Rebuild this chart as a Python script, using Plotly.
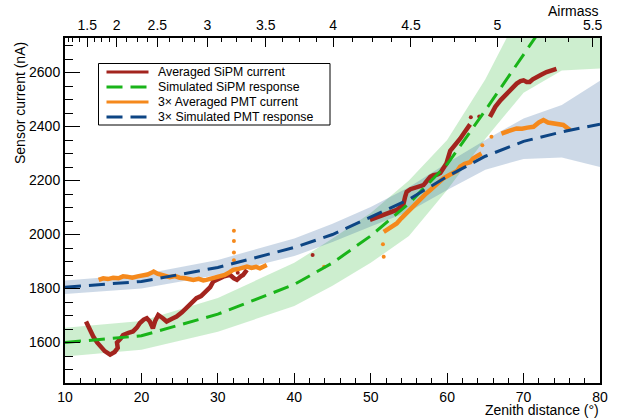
import plotly.graph_objects as go

# ---------------- data ----------------
# simulated responses (zenith distance in degrees, current in nA)
sim_z = [10, 20, 30, 40, 45, 50, 55, 60, 65, 70, 75, 80]
sipm_sim = [1600, 1625, 1705, 1815, 1895, 1995, 2115, 2260, 2460, 2665, 2870, 3080]
sipm_sim_lo = [1548, 1573, 1640, 1735, 1810, 1895, 1995, 2165, 2355, 2525, 2608, 2615]
sipm_sim_hi = [1655, 1680, 1765, 1895, 1985, 2080, 2200, 2350, 2575, 2850, 3000, 3100]
pmt_sim = [1805, 1826, 1878, 1952, 2000, 2066, 2130, 2215, 2290, 2345, 2380, 2409]
pmt_sim_lo = [1780, 1800, 1850, 1920, 1972, 2030, 2085, 2165, 2240, 2280, 2285, 2250]
pmt_sim_hi = [1830, 1852, 1906, 1985, 2040, 2102, 2175, 2265, 2350, 2430, 2480, 2570]

# averaged SiPM current (None = gap)
sipm_z = [12.75, 13.2, 13.7, 14.2, 14.6, 15.2, 15.9, 16.5, 16.9, 16.8, 17.3, 17.6, 18.3, 18.9,
          19.4, 19.8, 20.3, 20.7, 21.1, 21.5, 21.8, 22.2, 22.8, 23.3, 24.0, 24.6, 25.3, 25.9,
          26.5, 27.2, 27.8, 28.5, 29.0, 29.4, 30.0, 30.7, 31.2, 31.6, 32.1, 32.5, 33.0, 33.3, 33.8,
          None,
          49.9, 50.5, 51.0, 51.7, 52.5, 53.4, 54.0, 54.3, 54.5, 54.7, 55.2, 55.6, 56.2, 56.9,
          57.4, 57.8, 58.2, 58.7, 59.1, 59.5, 59.9, 60.4, 61.0, 61.7, 62.3, 63.0,
          None,
          65.6, 66.0, 66.3, 67.0, 67.8, 68.5, 69.1, 69.6, 70.0, 70.4, 70.8, 71.2, 71.7, 72.3,
          73.0, 73.6, 74.3]
sipm_i = [1678, 1650, 1622, 1600, 1585, 1568, 1555, 1565, 1580, 1600, 1615, 1628, 1636, 1641,
          1655, 1672, 1685, 1690, 1678, 1653, 1680, 1702, 1690, 1678, 1688, 1696, 1712, 1727,
          1745, 1764, 1772, 1789, 1805, 1826, 1835, 1844, 1848, 1850, 1838, 1832, 1845, 1850, 1869,
          None,
          2054, 2060, 2066, 2072, 2080, 2091, 2105, 2115, 2140, 2158, 2168, 2171, 2175, 2183,
          2200, 2214, 2220, 2222, 2228, 2245, 2263, 2310, 2330, 2355, 2380, 2408,
          None,
          2436, 2455, 2473, 2498, 2522, 2542, 2559, 2568, 2571, 2565, 2565, 2575, 2584, 2592,
          2602, 2607, 2614]
sipm_dot_z = [42.4, 63.1, 64.2, 32.6]
sipm_dot_i = [1924, 2434, 2437, 1858]

# 3x averaged PMT current
pmt_z = [14.4, 15.0, 15.6, 16.3, 17.0, 17.6, 18.1, 18.8, 19.5, 20.2, 20.8, 21.3, 21.6, 22.1,
         22.6, 23.2, 23.7, 24.4, 25.0, 25.7, 26.3, 26.8, 27.5, 28.1, 28.5, 29.2, 29.8, 30.3,
         30.9, 31.5, 32.0, 32.6, 33.2, 33.8, 34.4, 35.0, 35.5, 36.0, 36.4,
         None,
         51.7, 52.2, 52.8, 53.4, 54.0, 54.6, 55.1, 55.7, 56.4, 57.1, 57.8, 58.5, 59.1, 59.5,
         60.4, 61.3, 61.7, 62.3, 63.0, 63.4, 64.0, 64.5,
         None,
         67.1, 67.6, 68.2, 69.1, 69.8, 70.5, 71.3, 72.0, 72.6, 73.2, 73.9, 74.5, 75.2, 75.7, 76.1]
pmt_i = [1832, 1838, 1835, 1840, 1838, 1845, 1844, 1840, 1845, 1848, 1852, 1858, 1863, 1855,
         1850, 1845, 1842, 1846, 1840, 1838, 1835, 1832, 1836, 1830, 1832, 1838, 1840, 1844,
         1850, 1860, 1869, 1872, 1876, 1881, 1876, 1880, 1875, 1882, 1887,
         None,
         2010, 2020, 2030, 2041, 2060, 2078, 2091, 2110, 2128, 2148, 2165, 2185, 2202, 2208,
         2222, 2235, 2251, 2262, 2268, 2282, 2292, 2300,
         None,
         2374, 2380, 2385, 2393, 2392, 2396, 2399, 2415, 2424, 2415, 2411, 2410, 2406, 2395, 2387]
pmt_dot_z = [32.1, 32.1, 32.1, 32.1, 51.6, 51.7, 43.9, 64.6, 65.8]
pmt_dot_i = [1905, 1933, 1976, 2014, 1964, 1918, 1881, 2331, 2362]

# top axis: airmass labels and the zenith distance where each sits
airmass_labels = ["1.5", "2", "2.5", "3", "3.5", "4", "4.5", "5", "5.5"]
airmass_at_z = [12.92, 16.76, 22.08, 28.62, 36.26, 45.1, 55.27, 66.57, 79.04]

legend_labels = ["Averaged SiPM current", "Simulated SiPM response",
                 "3\u00d7 Averaged PMT current", "3\u00d7 Simulated PMT response"]

# ---------------- styles ----------------
RED = "#a3241e"
GREEN = "#19b419"
ORANGE = "#f5891c"
BLUE = "#0d4584"
FONT = "Liberation Sans, Arial, sans-serif"
W, H = 620, 419
L, R, T, B = 65, 20, 38, 36
PW, PH = W - L - R, H - T - B


def px(xp):  # pixel x -> paper
    return (xp - L) / PW


def py(yp):  # pixel y -> paper
    return (H - B - yp) / PH


fig = go.Figure()

# bands
fig.add_trace(go.Scatter(x=sim_z + sim_z[::-1], y=sipm_sim_hi + sipm_sim_lo[::-1],
                         fill="toself", fillcolor="rgba(60,190,70,0.26)", line=dict(width=0),
                         mode="lines", showlegend=False, hoverinfo="skip"))
fig.add_trace(go.Scatter(x=sim_z + sim_z[::-1], y=pmt_sim_hi + pmt_sim_lo[::-1],
                         fill="toself", fillcolor="rgba(40,90,150,0.23)", line=dict(width=0),
                         mode="lines", showlegend=False, hoverinfo="skip"))

# measured
fig.add_trace(go.Scatter(x=sipm_z, y=sipm_i, mode="lines", line=dict(color=RED, width=4.5),
                         name=legend_labels[0], showlegend=False, connectgaps=False))
fig.add_trace(go.Scatter(x=sipm_dot_z, y=sipm_dot_i, mode="markers",
                         marker=dict(color=RED, size=4), showlegend=False))
fig.add_trace(go.Scatter(x=pmt_z, y=pmt_i, mode="lines", line=dict(color=ORANGE, width=4.5),
                         name=legend_labels[2], showlegend=False, connectgaps=False))
fig.add_trace(go.Scatter(x=pmt_dot_z, y=pmt_dot_i, mode="markers",
                         marker=dict(color=ORANGE, size=4), showlegend=False))

# simulations
fig.add_trace(go.Scatter(x=sim_z, y=sipm_sim, mode="lines",
                         line=dict(color=GREEN, width=3, dash="16px,8px"),
                         name=legend_labels[1], showlegend=False))
fig.add_trace(go.Scatter(x=sim_z, y=pmt_sim, mode="lines",
                         line=dict(color=BLUE, width=3, dash="16px,8px"),
                         name=legend_labels[3], showlegend=False))

# dummy trace to activate the top axis
fig.add_trace(go.Scatter(x=[10, 80], y=[None, None], xaxis="x2", mode="lines",
                         showlegend=False, hoverinfo="skip"))

# minor ticks on the airmass axis (quarter steps between labelled ticks)
top_minor = [10.4, 11.0, 11.9]
for a, b in zip(airmass_at_z[:-1], airmass_at_z[1:]):
    for k in (1, 2, 3):
        top_minor.append(a + (b - a) * k / 4)

# legend drawn as a box with line samples and texts
shapes = [dict(type="rect", xref="paper", yref="paper", x0=px(98.5), x1=px(330),
               y0=py(63.5), y1=py(125), line=dict(color="black", width=1),
               fillcolor="white", layer="above")]
annotations = []
leg_styles = [(RED, "solid", 3), (GREEN, "16px,8px", 3), (ORANGE, "solid", 3),
              (BLUE, "16px,8px", 3)]
for k, (lab, (c, d, w)) in enumerate(zip(legend_labels, leg_styles)):
    yy = 72 + 15 * k
    shapes.append(dict(type="line", xref="paper", yref="paper", x0=px(106.5), x1=px(148.5),
                       y0=py(yy), y1=py(yy), line=dict(color=c, width=w, dash=d),
                       layer="above"))
    annotations.append(dict(text=lab, xref="paper", yref="paper", x=px(156), y=py(yy),
                            xanchor="left", yanchor="middle", showarrow=False,
                            font=dict(size=12.3, family=FONT)))

annotations += [
    dict(text="Zenith distance (\u00b0)", xref="paper", yref="paper", x=px(601), y=py(409.5),
         xanchor="right", yanchor="middle", showarrow=False, font=dict(size=14)),
    dict(text="Airmass", xref="paper", yref="paper", x=px(601), y=py(11.5),
         xanchor="right", yanchor="middle", showarrow=False, font=dict(size=14)),
    dict(text="Sensor current (nA)", xref="paper", yref="paper", x=px(20), y=py(40),
         xanchor="center", yanchor="top", textangle=-90, showarrow=False,
         font=dict(size=14)),
]

fig.update_layout(
    width=W, height=H,
    margin=dict(l=L, r=R, t=T, b=B),
    paper_bgcolor="white", plot_bgcolor="white",
    font=dict(family=FONT, color="black", size=14),
    showlegend=False,
    xaxis=dict(range=[10, 80], showgrid=False, zeroline=False,
               showline=True, linecolor="black", linewidth=2,
               ticks="inside", ticklen=10, tickwidth=1.2, tickcolor="black",
               tick0=10, dtick=10,
               minor=dict(ticks="inside", ticklen=5, dtick=2, tick0=10, tickcolor="black",
                          tickwidth=1.2),
               tickfont=dict(size=14)),
    xaxis2=dict(range=[10, 80], overlaying="x", side="top", showgrid=False, zeroline=False,
                showline=True, linecolor="black", linewidth=2,
                ticks="inside", ticklen=9, tickwidth=1.2, tickcolor="black",
                tickmode="array", tickvals=airmass_at_z, ticktext=airmass_labels,
                minor=dict(ticks="inside", ticklen=4, tickvals=top_minor, tickcolor="black",
                           tickwidth=1.2),
                tickfont=dict(size=14)),
    yaxis=dict(range=[1450, 2728], showgrid=False, zeroline=False,
               showline=True, linecolor="black", linewidth=2, mirror=True,
               ticks="inside", ticklen=15, tickwidth=1.2, tickcolor="black",
               tick0=1600, dtick=200,
               minor=dict(ticks="inside", ticklen=8, dtick=50, tick0=1600, tickcolor="black",
                          tickwidth=1.2),
               tickfont=dict(size=14)),
    shapes=shapes,
    annotations=annotations,
)

fig.write_html("out.html")
